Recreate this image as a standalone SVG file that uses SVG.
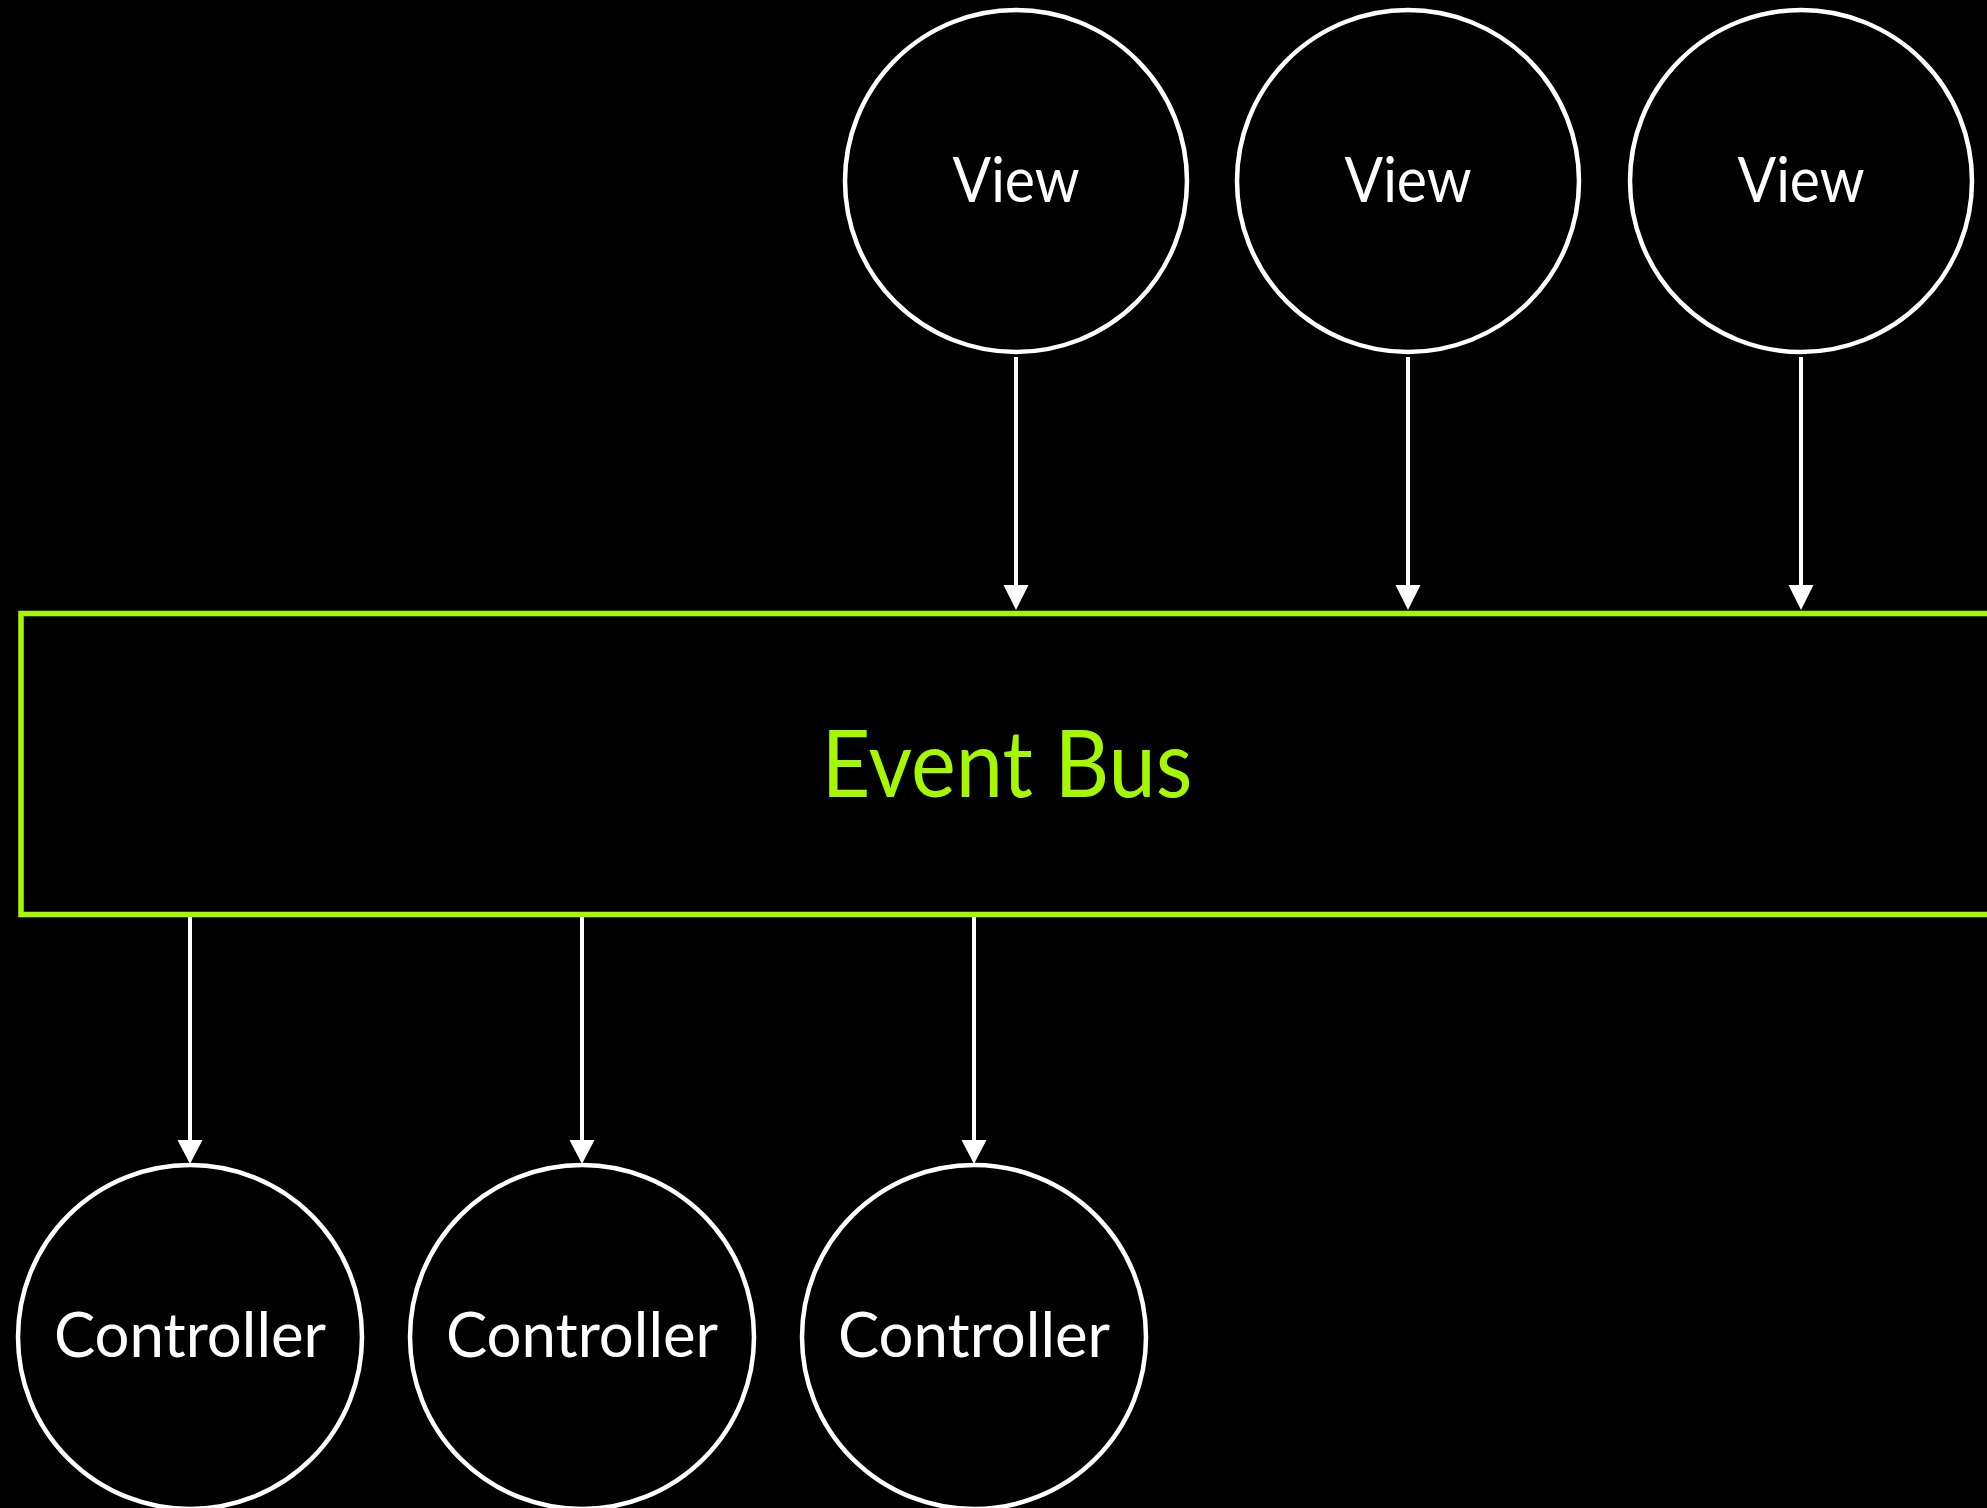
<svg xmlns="http://www.w3.org/2000/svg" width="1987" height="1508" viewBox="0 0 1987 1508">
<style>
.node circle{fill:#000;stroke:#fff;stroke-width:4.5}
.lbl{font-family:Lato,"Open Sans","Liberation Sans",sans-serif;fill:#fff;font-size:61px;text-anchor:middle}
.bus{font-family:Lato,"Open Sans","Liberation Sans",sans-serif;fill:#a6f800;font-size:94px;text-anchor:middle}
.conn line{stroke:#fff;stroke-width:4}
.conn path{fill:#fff}
</style>
<rect width="1987" height="1508" fill="#000"/>
<g id="event-bus">
<rect x="21" y="613.5" width="1980" height="301" fill="#000" stroke="#a6f800" stroke-width="5.5"/>
<text class="bus" x="1007" y="797" textLength="371" lengthAdjust="spacingAndGlyphs">Event Bus</text>
</g>
<g id="view1" class="node"><circle cx="1016" cy="181" r="171"/><text class="lbl" x="1016" y="202" textLength="127" lengthAdjust="spacingAndGlyphs">View</text></g>
<g id="view2" class="node"><circle cx="1408" cy="181" r="171"/><text class="lbl" x="1408" y="202" textLength="127" lengthAdjust="spacingAndGlyphs">View</text></g>
<g id="view3" class="node"><circle cx="1801" cy="181" r="171"/><text class="lbl" x="1801" y="202" textLength="127" lengthAdjust="spacingAndGlyphs">View</text></g>
<g id="controller1" class="node"><circle cx="190" cy="1337" r="172"/><text class="lbl" x="190" y="1357" textLength="272" lengthAdjust="spacingAndGlyphs">Controller</text></g>
<g id="controller2" class="node"><circle cx="582" cy="1337" r="172"/><text class="lbl" x="582" y="1357" textLength="272" lengthAdjust="spacingAndGlyphs">Controller</text></g>
<g id="controller3" class="node"><circle cx="974" cy="1337" r="172"/><text class="lbl" x="974" y="1357" textLength="272" lengthAdjust="spacingAndGlyphs">Controller</text></g>
<g id="connectors" class="conn">
<line x1="1016" y1="357" x2="1016" y2="586"/><path d="M1003.5,585 L1028.5,585 L1016,610 Z"/>
<line x1="1408" y1="357" x2="1408" y2="586"/><path d="M1395.5,585 L1420.5,585 L1408,610 Z"/>
<line x1="1801" y1="357" x2="1801" y2="586"/><path d="M1788.5,585 L1813.5,585 L1801,610 Z"/>
<line x1="190" y1="917" x2="190" y2="1141"/><path d="M177.5,1140 L202.5,1140 L190,1164 Z"/>
<line x1="582" y1="917" x2="582" y2="1141"/><path d="M569.5,1140 L594.5,1140 L582,1164 Z"/>
<line x1="974" y1="917" x2="974" y2="1141"/><path d="M961.5,1140 L986.5,1140 L974,1164 Z"/>
</g>
</svg>
